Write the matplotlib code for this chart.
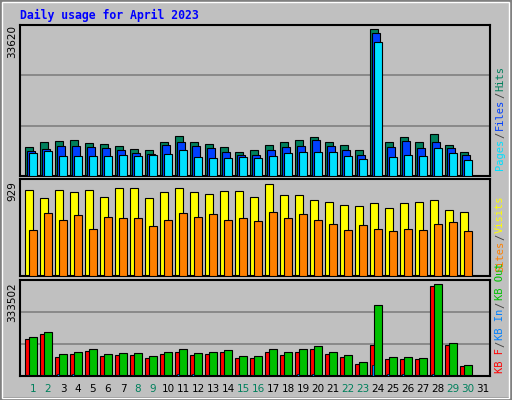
import matplotlib
matplotlib.use("Agg")
import matplotlib.pyplot as plt
from matplotlib.patches import Rectangle

days = list(range(1, 31))
day_labels = [str(d) for d in range(1, 32)]
weekend = [1, 2, 8, 9, 15, 16, 22, 23, 29, 30]

hits = [6630,7780,8000,8230,7550,7320,6860,6170,5950,7780,9150,7780,7320,6630,5490,5950,7090,7780,8230,8920,7780,7090,5950,33620,7780,8920,7780,9610,7090,5490]
files = [5720,6170,6860,6860,6630,6400,5950,5260,5030,7090,7780,6860,6400,5490,4800,4800,5950,6630,6860,8230,6860,5950,4800,32700,6630,8000,6400,7780,6400,4800]
pages = [5260,5720,4570,4570,4570,4570,4800,4570,4800,5030,5950,4350,4120,4120,4350,4120,4570,5260,5490,5490,5490,4570,3890,30650,4350,4800,4570,6400,5260,3660]
visits = [869,788,869,848,869,798,889,889,788,848,889,848,828,859,859,798,929,818,818,768,747,717,707,737,687,737,747,768,667,646]
sites = [465,636,566,616,475,596,586,586,505,566,636,596,626,566,586,556,646,586,626,566,525,465,515,475,455,475,465,525,545,455]
kbf = [134100,152300,68900,79800,90600,72500,76100,76100,65300,79800,87000,76100,79800,87000,65300,65300,87000,76100,87000,97900,79800,68900,43500,112400,61600,61600,61600,326300,112400,36300]
kbout = [141400,159500,79800,87000,97900,79800,83400,83400,72500,87000,97900,83400,87000,94300,72500,72500,97900,87000,97900,108800,87000,76100,50800,257400,68900,68900,65300,333502,119600,39900]
kbin = [3000,3000,9000,9000,3000,3000,3000,3000,3000,3000,9000,9000,3000,3000,3000,3000,3000,3000,9000,9000,3000,3000,3000,40000,9000,9000,3000,9000,3000,3000]

BG = "#c0c0c0"
fig = plt.figure(figsize=(5.12, 4.0), dpi=100)
fig.patch.set_facecolor(BG)
fig.add_artist(Rectangle((0, 0), 1, 1, transform=fig.transFigure, fill=False, ec="#808080", lw=4))
fig.add_artist(Rectangle((0.004, 0.006), 0.99, 0.988, transform=fig.transFigure, fill=False, ec="white", lw=1))
fig.text(20/512, 1-15/400, "Daily usage for April 2023", color="#0000ff",
         family="DejaVu Sans Mono", weight="bold", fontsize=8.3, va="center", ha="left")

W = 470.0
def mkax(top, bot):
    ax = fig.add_axes([20/512, 1-bot/400, W/512, (bot-top)/400])
    ax.set_facecolor(BG)
    ax.set_xlim(0, W)
    ax.set_xticks([]); ax.set_yticks([])
    for s in ax.spines.values():
        s.set_color("black"); s.set_linewidth(1.5)
    return ax

lw = 0.8
x0 = [5.3 + 15*(d-1) for d in days]

ax1 = mkax(25, 176)
ax1.set_ylim(0, 34535)
for g in (34535/3, 2*34535/3):
    ax1.axhline(g, color="#808080", lw=1.2, zorder=0)
ax1.bar(x0, hits, width=7.3, align="edge", color="#00805c", ec="black", lw=lw, zorder=2)
ax1.bar([x+2 for x in x0], files, width=7.3, align="edge", color="#0040ff", ec="black", lw=lw, zorder=3)
ax1.bar([x+4 for x in x0], pages, width=7.3, align="edge", color="#00e0ff", ec="black", lw=lw, zorder=4)

ax2 = mkax(179, 276)
ax2.set_ylim(0, 979)
ax2.bar(x0, visits, width=8, align="edge", color="#ffff00", ec="black", lw=lw, zorder=2)
ax2.bar([x+3.5 for x in x0], sites, width=8, align="edge", color="#ff8000", ec="black", lw=lw, zorder=3)

ax3 = mkax(280, 376)
ax3.set_ylim(0, 348000)
for g in (348000/3, 2*348000/3):
    ax3.axhline(g, color="#808080", lw=1.2, zorder=0)
ax3.bar(x0, kbf, width=7, align="edge", color="#ff0000", ec="black", lw=lw, zorder=2)
ax3.bar([x+2 for x in x0], kbin, width=2, align="edge", color="#0080ff", ec="black", lw=0.5, zorder=3)
ax3.bar([x+4 for x in x0], kbout, width=7.5, align="edge", color="#00c000", ec="black", lw=lw, zorder=2.5)

for i, lab in enumerate(day_labels):
    d = i + 1
    fig.text((20 + 13 + 15*(d-1))/512, 1-389/400, lab, ha="center", va="center", fontsize=7.5,
             color="#00805c" if d in weekend else "black")

for y, t in ((25, "33620"), (181, "929"), (282, "333502")):
    fig.text(12/512, 1-y/400, t, rotation=90, ha="center", va="top", fontsize=7.5)

renderer = fig.canvas.get_renderer()
def legend(ybot, parts):
    y = ybot
    for txt, col in parts:
        t = fig.text(500/512, 1-y/400, txt, rotation=90, ha="center", va="bottom",
                     family="DejaVu Sans Mono", fontsize=7.5, color=col)
        bb = t.get_window_extent(renderer)
        y -= bb.height + 1

legend(170, [("Pages", "#00e0ff"), ("/", "#404040"), ("Files", "#0040ff"), ("/", "#404040"), ("Hits", "#00805c")])
legend(272, [("Sites", "#ff8000"), ("/", "#404040"), ("Visits", "#ffff00")])
legend(373, [("KB F", "#ff0000"), ("/", "#404040"), ("KB In", "#0080ff"), ("/", "#404040"), ("KB Out", "#00c000")])

fig.savefig("out.png", dpi=100, facecolor=BG)
